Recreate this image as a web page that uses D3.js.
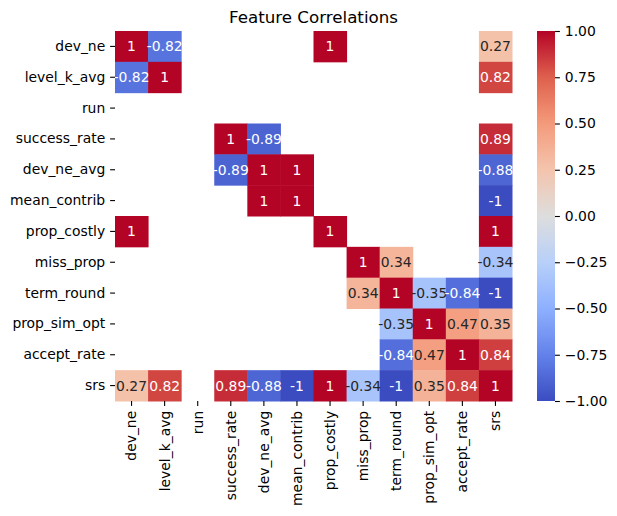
<!DOCTYPE html>
<html>
<head>
<meta charset="utf-8">
<script src="https://cdn.jsdelivr.net/npm/d3@7"></script>
<style>
  body { margin: 0; background: #fff; }
  text { font-family: "DejaVu Sans", sans-serif; }
</style>
</head>
<body>
<div id="chart"></div>
<script>
// feature names (rows and columns share the same order)
var features = ["dev_ne", "level_k_avg", "run", "success_rate", "dev_ne_avg", "mean_contrib",
  "prop_costly", "miss_prop", "term_round", "prop_sim_opt", "accept_rate", "srs"];

// correlation values, null = masked / NaN cell
var rowDevNe       = [1, -0.82, null, null, null, null, 1, null, null, null, null, 0.27];
var rowLevelK      = [-0.82, 1, null, null, null, null, null, null, null, null, null, 0.82];
var rowRun         = [null, null, null, null, null, null, null, null, null, null, null, null];
var rowSuccess     = [null, null, null, 1, -0.89, null, null, null, null, null, null, 0.89];
var rowDevNeAvg    = [null, null, null, -0.89, 1, 1, null, null, null, null, null, -0.88];
var rowMeanContrib = [null, null, null, null, 1, 1, null, null, null, null, null, -1];
var rowPropCostly  = [1, null, null, null, null, null, 1, null, null, null, null, 1];
var rowMissProp    = [null, null, null, null, null, null, null, 1, 0.34, null, null, -0.34];
var rowTermRound   = [null, null, null, null, null, null, null, 0.34, 1, -0.35, -0.84, -1];
var rowPropSimOpt  = [null, null, null, null, null, null, null, null, -0.35, 1, 0.47, 0.35];
var rowAcceptRate  = [null, null, null, null, null, null, null, null, -0.84, 0.47, 1, 0.84];
var rowSrs         = [0.27, 0.82, null, 0.89, -0.88, -1, 1, -0.34, -1, 0.35, 0.84, 1];

var corrRows = [rowDevNe, rowLevelK, rowRun, rowSuccess, rowDevNeAvg, rowMeanContrib,
  rowPropCostly, rowMissProp, rowTermRound, rowPropSimOpt, rowAcceptRate, rowSrs];

var colorbarTicks = [1, 0.75, 0.5, 0.25, 0, -0.25, -0.5, -0.75, -1];

// coolwarm colormap samples
var coolwarmStops = ["#3b4cc0", "#6282ea", "#8db0fe", "#b8d0f9", "#dddddd",
  "#f4c4ad", "#f49a7b", "#de604d", "#b40426"];

var W = 617, H = 516;
var mLeft = 115, mRight = 512, mTop = 31, mBottom = 401;

var cool = d3.scaleLinear()
  .domain(d3.range(coolwarmStops.length).map(i => -1 + 2 * i / (coolwarmStops.length - 1)))
  .range(coolwarmStops)
  .interpolate(d3.interpolateRgb)
  .clamp(true);

function textColor(c) {
  var rgb = d3.rgb(c);
  var lin = [rgb.r, rgb.g, rgb.b].map(v => {
    v = v / 255;
    return v <= 0.03928 ? v / 12.92 : Math.pow((v + 0.055) / 1.055, 2.4);
  });
  var lum = 0.2126 * lin[0] + 0.7152 * lin[1] + 0.0722 * lin[2];
  return lum > 0.408 ? "#262626" : "#ffffff";
}

var svg = d3.select("#chart").append("svg")
  .attr("width", W)
  .attr("height", H);

var x = d3.scaleBand().domain(features).range([mLeft, mRight]);
var y = d3.scaleBand().domain(features).range([mTop, mBottom]);

var cells = [];
corrRows.forEach((row, i) => {
  row.forEach((v, j) => {
    if (v !== null) cells.push({ r: features[i], c: features[j], v: v });
  });
});

svg.append("g").selectAll("rect")
  .data(cells)
  .enter().append("rect")
  .attr("x", d => x(d.c))
  .attr("y", d => y(d.r))
  .attr("width", x.bandwidth() + 0.5)
  .attr("height", y.bandwidth() + 0.5)
  .attr("fill", d => cool(d.v));

svg.append("g").selectAll("text")
  .data(cells)
  .enter().append("text")
  .attr("x", d => x(d.c) + x.bandwidth() / 2)
  .attr("y", d => y(d.r) + y.bandwidth() / 2)
  .attr("text-anchor", "middle")
  .attr("dominant-baseline", "central")
  .attr("font-size", "13.9px")
  .attr("fill", d => textColor(cool(d.v)))
  .text(d => String(d.v));

// axes
var yAxis = svg.append("g")
  .attr("transform", "translate(" + mLeft + ",0)")
  .call(d3.axisLeft(y).tickSize(4.9).tickPadding(4.9));
yAxis.select(".domain").remove();
yAxis.selectAll("text").attr("font-size", "13.9px").attr("fill", "#000")
  .attr("font-family", "DejaVu Sans");
yAxis.selectAll("line").attr("stroke", "#000").attr("stroke-width", 1.1);

var xAxis = svg.append("g")
  .attr("transform", "translate(0," + mBottom + ")")
  .call(d3.axisBottom(x).tickSize(4.9).tickPadding(4.9));
xAxis.select(".domain").remove();
xAxis.selectAll("line").attr("stroke", "#000").attr("stroke-width", 1.1);
xAxis.selectAll("text")
  .attr("font-size", "13.9px")
  .attr("fill", "#000")
  .attr("font-family", "DejaVu Sans")
  .attr("transform", "rotate(-90)")
  .attr("x", -9.8)
  .attr("y", 0)
  .attr("dy", "0.35em")
  .attr("text-anchor", "end");

// title
svg.append("text")
  .attr("x", (mLeft + mRight) / 2)
  .attr("y", 23)
  .attr("text-anchor", "middle")
  .attr("font-size", "16.7px")
  .attr("fill", "#000")
  .text("Feature Correlations");

// colorbar
var cbX = 537, cbW = 18;
var cbScale = d3.scaleLinear().domain([-1, 1]).range([mBottom, mTop]);

var grad = svg.append("defs").append("linearGradient")
  .attr("id", "cwgrad")
  .attr("x1", 0).attr("y1", 1).attr("x2", 0).attr("y2", 0);
d3.range(0, 1.0001, 1 / 32).forEach(t => {
  grad.append("stop")
    .attr("offset", t)
    .attr("stop-color", cool(-1 + 2 * t));
});

svg.append("rect")
  .attr("x", cbX)
  .attr("y", mTop)
  .attr("width", cbW)
  .attr("height", mBottom - mTop)
  .attr("fill", "url(#cwgrad)");

var cbAxis = svg.append("g")
  .attr("transform", "translate(" + (cbX + cbW) + ",0)")
  .call(d3.axisRight(cbScale).tickValues(colorbarTicks).tickFormat(d3.format(".2f"))
    .tickSize(4.9).tickPadding(4.9));
cbAxis.select(".domain").remove();
cbAxis.selectAll("line").attr("stroke", "#000").attr("stroke-width", 1.1);
cbAxis.selectAll("text").attr("font-size", "13.9px").attr("fill", "#000")
  .attr("font-family", "DejaVu Sans");
</script>
</body>
</html>
